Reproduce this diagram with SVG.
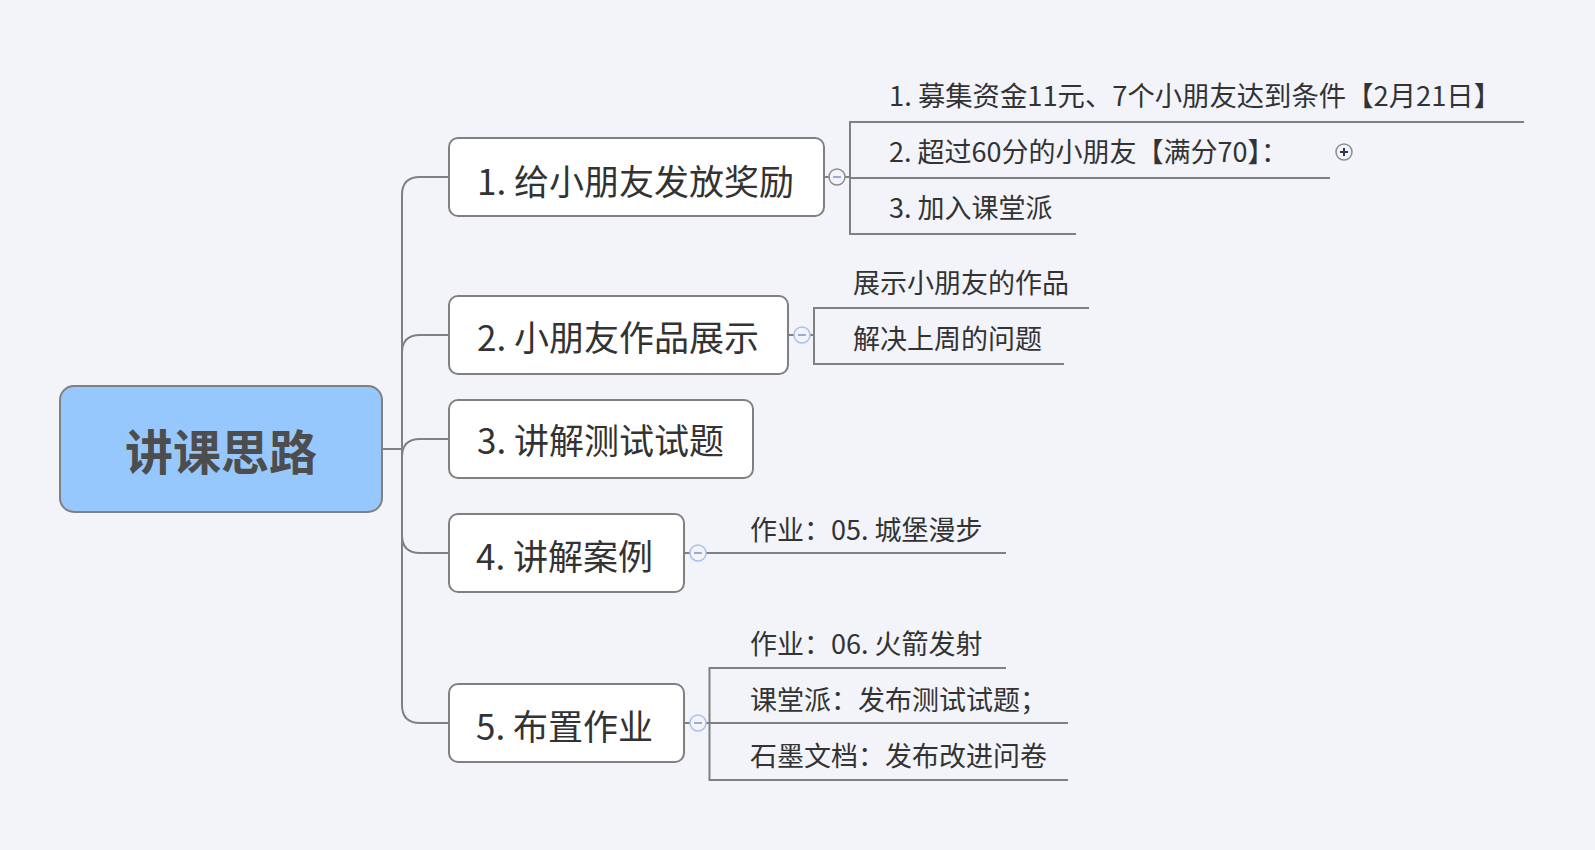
<svg xmlns="http://www.w3.org/2000/svg" width="1595" height="850" viewBox="0 0 1595 850">
<style>
.bg{fill:#f2f4f9}
.node{fill:#ffffff;stroke:#808080;stroke-width:2}
.root{fill:#96c8fe;stroke:#808080;stroke-width:2}
.ln{fill:none;stroke:#808080;stroke-width:2}
.t{font-family:"Noto Sans CJK SC","Microsoft YaHei",sans-serif;fill:#333333}
.nt{font-size:35px}
.st{font-size:27px}
.rt{font-family:"Noto Sans CJK SC",sans-serif;font-size:48px;font-weight:bold;fill:#4d4d4d}
.cg{fill:#f2f4f9;stroke:#8c8c8c;stroke-width:1.5}
.cb{fill:#f2f4f9;stroke:#a8bff0;stroke-width:1.5}
.mi{stroke:#7d93c8;stroke-width:1.5}
</style>
<rect class="bg" x="0" y="0" width="1595" height="850"/>
<g id="connectors">
  <path class="ln" d="M382 449 H402"/>
  <path class="ln" d="M449 177 H420 Q402 177 402 195 V705 Q402 723 420 723 H449"/>
  <path class="ln" d="M402 353 Q402 335 420 335 H449"/>
  <path class="ln" d="M402 457 Q402 439 420 439 H449"/>
  <path class="ln" d="M402 535 Q402 553 420 553 H449"/>
  <path class="ln" d="M824 177 H829 M845 177 H850"/>
  <path class="ln" d="M1524 122 H850 V234 H1076"/>
  <path class="ln" d="M850 178 H1330"/>
  <path class="ln" d="M788 335 H794 M810 335 H814"/>
  <path class="ln" d="M1089 308 H814 V364 H1064"/>
  <path class="ln" d="M684 553 H690 M706 553 H1006"/>
  <path class="ln" d="M684 723 H690 M706 723 H709.5"/>
  <path class="ln" d="M1006 668 H709.5 V780 H1068"/>
  <path class="ln" d="M709.5 723 H1068"/>
</g>
<g id="root">
  <rect class="root" x="60" y="386" width="322" height="126" rx="14"/>
  <text class="rt" x="221" y="470" text-anchor="middle">讲课思路</text>
</g>
<g id="n1">
  <rect class="node" x="449" y="138" width="375" height="78" rx="9"/>
  <text class="t nt" x="477" y="195">1. 给小朋友发放奖励</text>
  <circle class="cg" cx="837" cy="177" r="8"/>
  <path class="mi" d="M833 177 H841"/>
</g>
<g id="n1a"><text class="t st" x="889" y="106" textLength="612" lengthAdjust="spacingAndGlyphs">1. 募集资金11元、7个小朋友达到条件【2月21日】</text></g>
<g id="n1b">
  <text class="t st" x="889" y="162">2. 超过60分的小朋友【满分70】：</text>
  <circle cx="1344" cy="152" r="8" fill="#f2f4f9" stroke="#8c8c8c" stroke-width="1.5"/>
  <path d="M1340 152 H1348 M1344 148 V156" stroke="#2a3550" stroke-width="2"/>
</g>
<g id="n1c"><text class="t st" x="889" y="218">3. 加入课堂派</text></g>
<g id="n2">
  <rect class="node" x="449" y="296" width="339" height="78" rx="9"/>
  <text class="t nt" x="477" y="351">2. 小朋友作品展示</text>
  <circle class="cb" cx="802" cy="335" r="8"/>
  <path class="mi" d="M798 335 H806"/>
</g>
<g id="n2a"><text class="t st" x="853" y="293">展示小朋友的作品</text></g>
<g id="n2b"><text class="t st" x="853" y="349">解决上周的问题</text></g>
<g id="n3">
  <rect class="node" x="449" y="400" width="304" height="78" rx="9"/>
  <text class="t nt" x="477" y="454">3. 讲解测试试题</text>
</g>
<g id="n4">
  <rect class="node" x="449" y="514" width="235" height="78" rx="9"/>
  <text class="t nt" x="476" y="570">4. 讲解案例</text>
  <circle class="cb" cx="698" cy="553" r="8"/>
  <path class="mi" d="M694 553 H702"/>
</g>
<g id="n4a"><text class="t st" x="750" y="540">作业：05. 城堡漫步</text></g>
<g id="n5">
  <rect class="node" x="449" y="684" width="235" height="78" rx="9"/>
  <text class="t nt" x="476" y="740">5. 布置作业</text>
  <circle class="cb" cx="698" cy="723" r="8"/>
  <path class="mi" d="M694 723 H702"/>
</g>
<g id="n5a"><text class="t st" x="750" y="654">作业：06. 火箭发射</text></g>
<g id="n5b"><text class="t st" x="750" y="710">课堂派：发布测试试题；</text></g>
<g id="n5c"><text class="t st" x="750" y="766">石墨文档：发布改进问卷</text></g>
</svg>
